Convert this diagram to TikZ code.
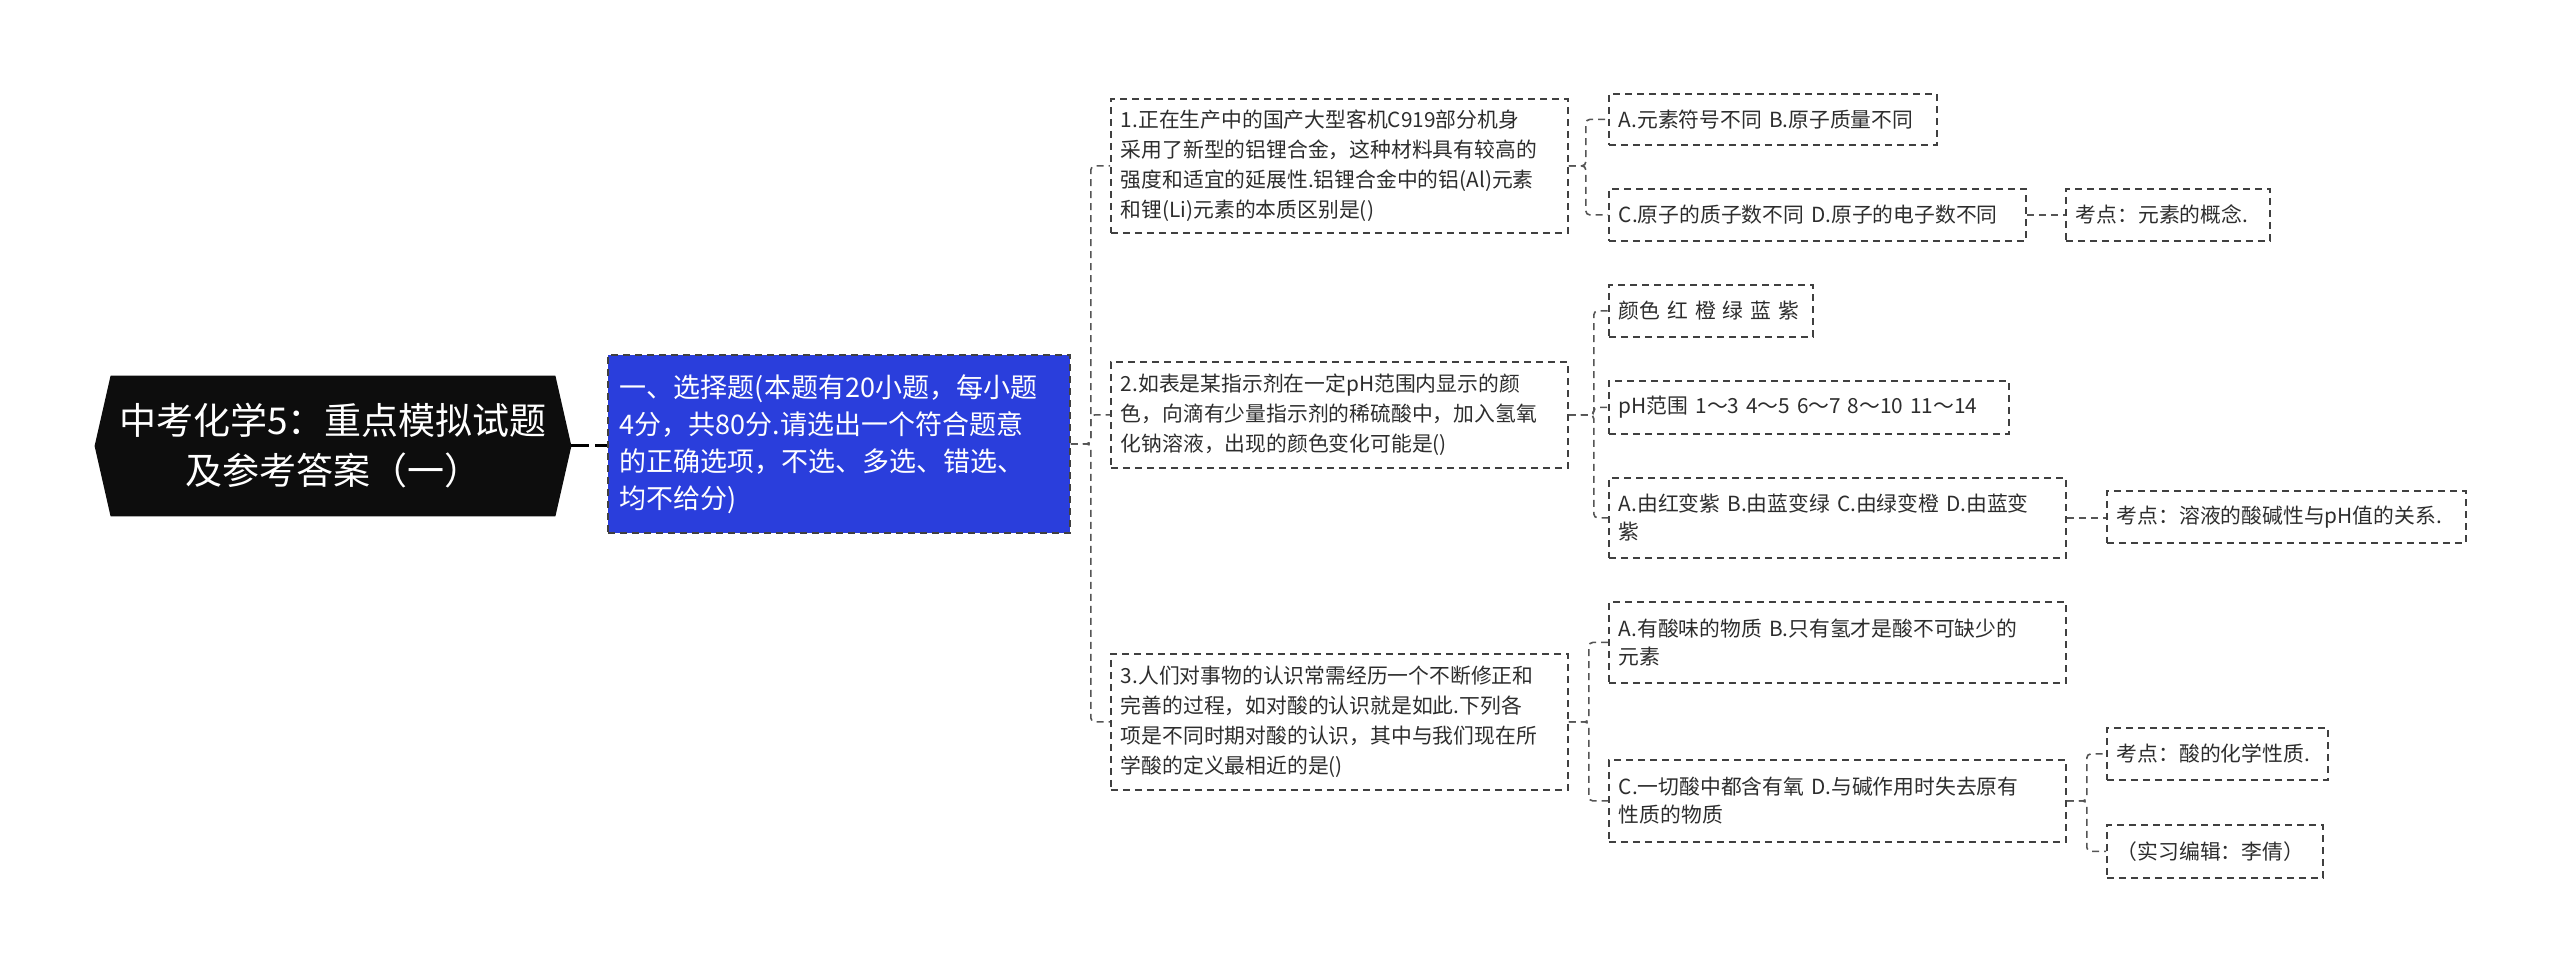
\documentclass[tikz,border=0pt]{standalone}
\usepackage{fontspec}
\setmainfont{Noto Sans CJK SC}
\usetikzlibrary{backgrounds}
\definecolor{bluefill}{RGB}{42,62,220}
\definecolor{linec}{RGB}{85,85,85}
\definecolor{txt}{RGB}{45,45,45}
\begin{document}
\begin{tikzpicture}[x=1pt,y=-1pt,
  box/.style={draw=black!75, line width=0.9pt, dash pattern=on 3.5pt off 2.5pt, inner xsep=5pt, inner ysep=0pt, anchor=north west, align=left, text=txt, font=\fontsize{10.4}{14}\selectfont},
  qbox/.style={box, font=\fontsize{10.4}{15}\selectfont},
  con/.style={draw=linec, line width=0.8pt, dash pattern=on 3.5pt off 2.5pt, rounded corners=2pt}]
\useasboundingbox (0,0) rectangle (1280,483.5);

% root
\node[minimum width=238pt, minimum height=70pt, inner sep=0pt, align=center, text=white, font=\fontsize{18.5}{25}\selectfont] (root) at (166.5,223) {中考化学5：重点模拟试题\\及参考答案（一）};
\begin{scope}[on background layer]
\fill[black!95] (root.west) -- ([xshift=8pt]root.north west) -- ([xshift=-8pt]root.north east) -- (root.east) -- ([xshift=-8pt]root.south east) -- ([xshift=8pt]root.south west) -- cycle;
\end{scope}

% level 1
\node[box, fill=bluefill, text=white, inner xsep=6pt, text width=219pt, minimum height=89pt, font=\fontsize{13.5}{18.5}\selectfont] (blue) at (303.5,177) {一、选择题(本题有20小题，每小题\\4分，共80分.请选出一个符合题意\\的正确选项，不选、多选、错选、\\均不给分)};

% questions
\node[qbox, text width=218.5pt, minimum height=67pt] (q1) at (555,49) {1.正在生产中的国产大型客机C919部分机身\\采用了新型的铝锂合金，这种材料具有较高的\\强度和适宜的延展性.铝锂合金中的铝(Al)元素\\和锂(Li)元素的本质区别是()};
\node[qbox, text width=218.5pt, minimum height=53pt] (q2) at (555,180.5) {2.如表是某指示剂在一定pH范围内显示的颜\\色，向滴有少量指示剂的稀硫酸中，加入氢氧\\化钠溶液，出现的颜色变化可能是()};
\node[qbox, text width=218.5pt, minimum height=68pt] (q3) at (555,326.5) {3.人们对事物的认识常需经历一个不断修正和\\完善的过程，如对酸的认识就是如此.下列各\\项是不同时期对酸的认识，其中与我们现在所\\学酸的定义最相近的是()};

% leaves
\node[box, text width=154pt, minimum height=25.5pt] (a1) at (804,46.5) {A.元素符号不同 B.原子质量不同};
\node[box, text width=198.5pt, minimum height=26pt] (a2) at (804,94) {C.原子的质子数不同 D.原子的电子数不同};
\node[box, text width=92pt, minimum height=26pt] (k1) at (1032.5,94) {考点：元素的概念.};

\node[box, text width=92pt, minimum height=26pt] (b1) at (804,142) {颜色 红 橙 绿 蓝 紫};
\node[box, text width=190pt, minimum height=26.5pt] (b2) at (804,190) {pH范围 1～3 4～5 6～7 8～10 11～14};
\node[box, text width=218.5pt, minimum height=40pt] (b3) at (804,238.5) {A.由红变紫 B.由蓝变绿 C.由绿变橙 D.由蓝变\\紫};
\node[box, text width=169.5pt, minimum height=26pt] (k2) at (1053,245) {考点：溶液的酸碱性与pH值的关系.};

\node[box, text width=218.5pt, minimum height=40.5pt] (c1) at (804,300.5) {A.有酸味的物质 B.只有氢才是酸不可缺少的\\元素};
\node[box, text width=218.5pt, minimum height=41pt] (c2) at (804,379.5) {C.一切酸中都含有氧 D.与碱作用时失去原有\\性质的物质};
\node[box, text width=100.5pt, minimum height=26pt] (k3) at (1053,363.5) {考点：酸的化学性质.};
\node[box, text width=98pt, minimum height=26.5pt] (k4) at (1053,412) {（实习编辑：李倩）};

% connectors
\draw[draw=black, line width=1.5pt, dash pattern=on 9pt off 3pt] (root.east) -- (blue.west |- root.east);
\draw[con] (blue.east) -- ++(10,0) |- (q1.west);
\draw[con] (blue.east) -- ++(10,0) |- (q2.west);
\draw[con] (blue.east) -- ++(10,0) |- (q3.west);

\draw[con] (q1.east) -- ++(8.5,0) |- (a1.west);
\draw[con] (q1.east) -- ++(8.5,0) |- (a2.west);
\draw[con] (a2.east) -- (k1.west);

\draw[con] (q2.east) -- ++(12.5,0) |- (b1.west);
\draw[con] (q2.east) -- ++(12.5,0) |- (b2.west);
\draw[con] (q2.east) -- ++(12.5,0) |- (b3.west);
\draw[con] (b3.east) -- (k2.west |- b3.east);

\draw[con] (q3.east) -- ++(10,0) |- (c1.west);
\draw[con] (q3.east) -- ++(10,0) |- (c2.west);
\draw[con] (c2.east) -- ++(10,0) |- (k3.west);
\draw[con] (c2.east) -- ++(10,0) |- (k4.west);
\end{tikzpicture}
\end{document}
